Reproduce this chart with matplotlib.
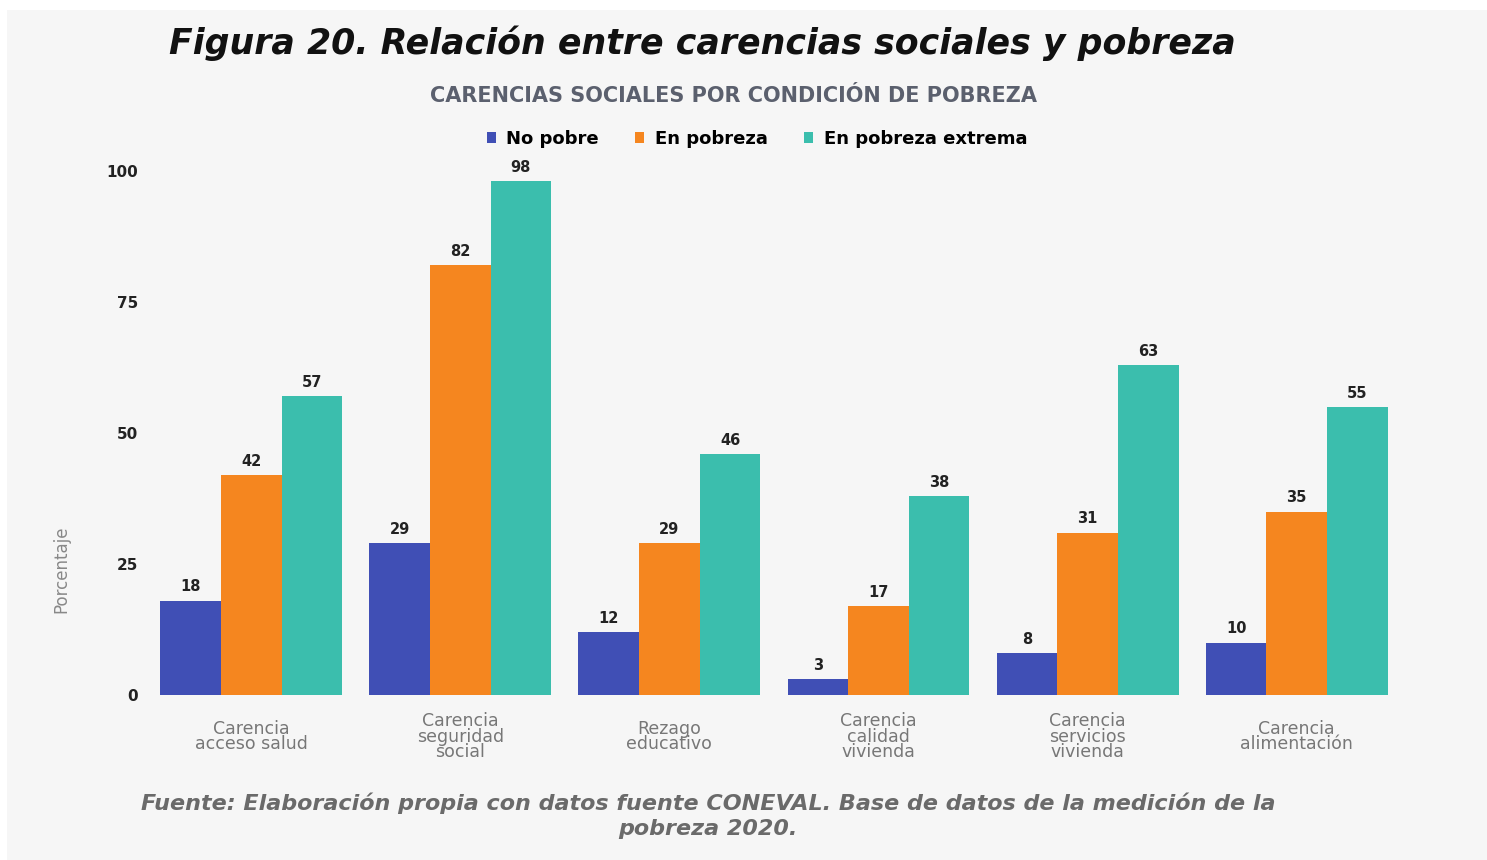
import numpy as np
import matplotlib
matplotlib.use('Agg')
import matplotlib.pyplot as plt
from matplotlib.patches import Rectangle

categories = ['Carencia\nacceso salud', 'Carencia\nseguridad\nsocial', 'Rezago\neducativo',
              'Carencia\ncalidad\nvivienda', 'Carencia\nservicios\nvivienda', 'Carencia\nalimentación']
series_names = ['No pobre', 'En pobreza', 'En pobreza extrema']
no_pobre = [18, 29, 12, 3, 8, 10]
en_pobreza = [42, 82, 29, 17, 31, 35]
pobreza_extrema = [57, 98, 46, 38, 63, 55]
colors = ['#404fb5', '#f5861f', '#3bbead']
yticks = [0, 25, 50, 75, 100]


def main():
    fig = plt.figure(figsize=(14.87, 8.6), dpi=100)
    fig.patch.set_facecolor('white')
    fig.patches.append(Rectangle((7 / 1487, 0), 1, 1 - 10 / 860, transform=fig.transFigure,
                                 facecolor='#f6f6f6', edgecolor='none', zorder=-10))

    ax = fig.add_axes([155 / 1487, 1 - 695 / 860, (1395 - 155) / 1487, (695 - 171) / 860])
    ax.set_facecolor('none')

    x = np.arange(len(categories))
    w = 0.29
    data = [no_pobre, en_pobreza, pobreza_extrema]
    for i, (vals, name, c) in enumerate(zip(data, series_names, colors)):
        bars = ax.bar(x + (i - 1) * w, vals, width=w, color=c, label=name, linewidth=0)
        for b, v in zip(bars, vals):
            ax.text(b.get_x() + b.get_width() / 2, v + 1.2, str(v), ha='center', va='bottom',
                    fontsize=10.5, fontweight='bold', color='#222222')

    ax.set_xlim(-0.46, 5.47)
    ax.set_ylim(0, 100)
    ax.set_yticks(yticks)
    ax.set_yticklabels([str(t) for t in yticks], fontsize=11, fontweight='bold', color='#222222')
    ax.set_xticks(x)
    ax.set_xticklabels(categories, fontsize=12.5, color='#777777', linespacing=0.8)
    for lab in ax.get_xticklabels():
        lab.set_verticalalignment('center')
    ax.tick_params(length=0, pad=12)
    ax.tick_params(axis='x', pad=30)
    for s in ax.spines.values():
        s.set_visible(False)

    ax.set_ylabel('Porcentaje', fontsize=12, color='#888888')
    ax.yaxis.set_label_coords(-0.068, 0.24)

    fig.text(702 / 1487, 1 - 43 / 860, 'Figura 20. Relación entre carencias sociales y pobreza',
             ha='center', va='center', fontsize=25, fontweight='bold', style='italic', color='#111111')
    fig.text(733 / 1487, 1 - 96 / 860, 'CARENCIAS SOCIALES POR CONDICIÓN DE POBREZA',
             ha='center', va='center', fontsize=15, fontweight='bold', color='#5b606e')

    fig.legend(loc='center', bbox_to_anchor=(757 / 1487, 1 - 139 / 860), ncol=3, frameon=False,
               handlelength=0.5, handleheight=0.5, handletextpad=0.6, columnspacing=2.0,
               prop={'size': 13, 'weight': 'bold'})

    fig.text(708 / 1487, 1 - 816 / 860,
             'Fuente: Elaboración propia con datos fuente CONEVAL. Base de datos de la medición de la\npobreza 2020.',
             ha='center', va='center', fontsize=16, style='italic', fontweight='bold',
             color='#6a6a6a', linespacing=1.3)

    fig.savefig('out.png', dpi=100, facecolor=fig.get_facecolor())


if __name__ == '__main__':
    main()
